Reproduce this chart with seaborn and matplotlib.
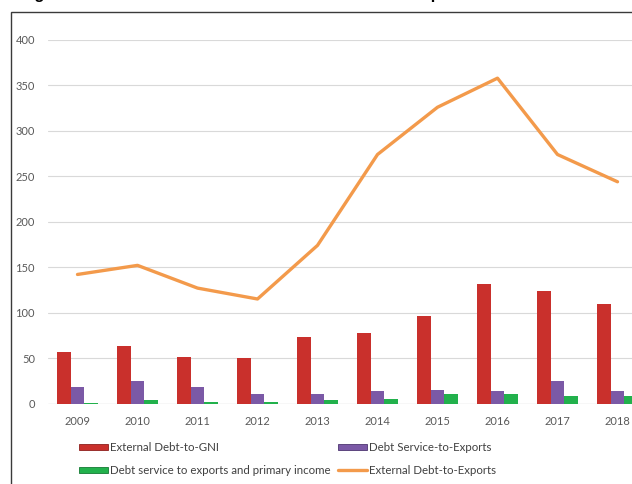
import numpy as np
import pandas as pd
import matplotlib
matplotlib.use("Agg")
import matplotlib.pyplot as plt
from matplotlib.patches import Rectangle, Patch
from matplotlib.lines import Line2D
import seaborn as sns

years = ["2009", "2010", "2011", "2012", "2013", "2014", "2015", "2016", "2017", "2018"]
debt_to_gni = [57, 63, 51, 50, 73, 78, 96, 131, 124, 109]
debt_service_to_exports = [18.5, 25, 18.5, 10, 11, 13.5, 15, 14, 25, 13.5]
debt_service_exports_primary = [1, 3.5, 2, 1.7, 3.5, 5, 11, 11, 8, 8.5]
debt_to_exports = [142, 152, 127, 115, 174, 274, 326, 358, 274, 244]

bar_series = ["External Debt-to-GNI", "Debt Service-to-Exports",
              "Debt service to exports and primary income"]
line_series = "External Debt-to-Exports"
colors = ["#C9302C", "#7B59A6", "#22B14C"]
line_color = "#F39A4B"

sns.set_theme(style="white")
plt.rcParams["font.family"] = ["Lato", "DejaVu Sans"]

df = pd.DataFrame({
    "year": years * 3,
    "value": debt_to_gni + debt_service_to_exports + debt_service_exports_primary,
    "series": [bar_series[0]] * 10 + [bar_series[1]] * 10 + [bar_series[2]] * 10,
})

W, H = 632, 484
fig = plt.figure(figsize=(W / 100, H / 100), dpi=100)
left, right, top, bottom = 47.5, 647.5, 40, 403.5
ax = fig.add_axes([left / W, 1 - bottom / H, (right - left) / W, (bottom - top) / H])

sns.barplot(data=df, x="year", y="value", hue="series", palette=colors,
            width=0.675, gap=0, ax=ax, legend=False, saturation=1,
            edgecolor="none", linewidth=0, zorder=3)
sns.lineplot(x=np.arange(len(years)), y=debt_to_exports, ax=ax, color=line_color,
             linewidth=2.4, zorder=4)

ax.set_xlim(-0.5, len(years) - 0.5)
ax.set_ylim(0, 400)
ax.set_yticks(np.arange(0, 401, 50))
ax.yaxis.grid(True, color="#D9D9D9", linewidth=0.8, zorder=0)
ax.set_axisbelow(True)
for s in ax.spines.values():
    s.set_visible(False)
ax.axhline(0, color="#D9D9D9", linewidth=0.9, zorder=2)
ax.set_xlabel("")
ax.set_ylabel("")
ax.tick_params(axis="both", length=0, labelsize=8, labelcolor="#595959")
ax.tick_params(axis="y", pad=9)
ax.tick_params(axis="x", pad=9)

handles = [
    Patch(facecolor=colors[0], edgecolor="#8E1F1C", linewidth=0.6),
    Patch(facecolor=colors[2], edgecolor="#137A33", linewidth=0.6),
    Patch(facecolor=colors[1], edgecolor="#4D3570", linewidth=0.6),
    Line2D([0], [0], color=line_color, linewidth=2.4),
]
labels = [bar_series[0], bar_series[2], bar_series[1], line_series]
fig.legend(handles, labels, ncol=2, loc="upper left",
           bbox_to_anchor=(79 / W, 1 - 442 / H), frameon=False,
           fontsize=8.3, labelcolor="#404040", handlelength=2.5, handleheight=0.5,
           handletextpad=0.2, columnspacing=0.65, labelspacing=1.05,
           borderaxespad=0, borderpad=0)

# outer frame of the figure panel
fig.patches.append(Rectangle((11 / W, -0.1), 1.2, 1.1 - 12 / H, transform=fig.transFigure,
                             fill=False, edgecolor="#3A3A3A", linewidth=1.0))

fig.text(20 / W, 1 + 1.0 / H, "Figure 2: Trends in External Debt Indicators and Composition",
         family=["Liberation Sans", "DejaVu Sans"], fontweight="bold", fontsize=11.7,
         va="baseline", ha="left", color="black")

fig.savefig("out.png", dpi=100)
